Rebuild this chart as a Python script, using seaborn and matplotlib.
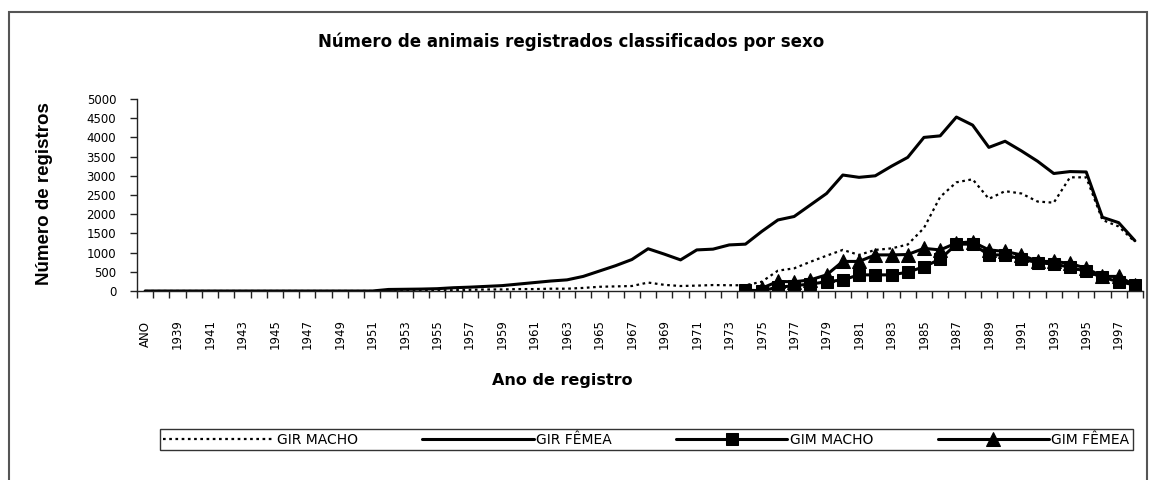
import numpy as np
import pandas as pd
import matplotlib
matplotlib.use("Agg")
import matplotlib.pyplot as plt
from matplotlib.patches import Rectangle
import seaborn as sns

# categorias do eixo x (a primeira e o cabecalho "ANO" da planilha)
anos = ["ANO"] + [str(a) for a in range(1938, 1999)]

gir_macho = [0,
             0, 0, 0, 0, 0, 0, 0, 0, 0, 0, 0, 0, 0, 0,
             5, 10, 10, 15, 20, 30, 40, 40, 50, 50, 60, 60, 80, 110, 120, 130,
             220, 160, 130, 140, 155, 150, 150, 240, 530, 590, 760, 920, 1070, 940,
             1070, 1110, 1210, 1640, 2450, 2830, 2910, 2400, 2600, 2540, 2330, 2300,
             2960, 2960, 1850, 1680, 1280]

gir_femea = [0,
             0, 0, 0, 0, 0, 0, 0, 0, 0, 0, 0, 0, 0, 0,
             40, 45, 50, 60, 85, 100, 120, 140, 180, 220, 260, 290, 380, 520, 660, 820,
             1100, 960, 810, 1070, 1090, 1200, 1220, 1550, 1850, 1940, 2240, 2540, 3020, 2960,
             3000, 3250, 3480, 4000, 4040, 4530, 4320, 3740, 3900, 3650, 3380, 3060,
             3110, 3100, 1920, 1780, 1310]

# GIM so aparece a partir de meados dos anos 70
gim_macho_anos = [str(a) for a in range(1974, 1999)]
gim_macho = [20, 10, 95, 140, 180, 240, 290, 420, 420, 420, 490, 630, 830,
             1220, 1220, 940, 940, 830, 740, 700, 620, 510, 360, 240, 160]

gim_femea_anos = [str(a) for a in range(1975, 1999)]
gim_femea = [70, 250, 240, 290, 420, 770, 770, 940, 940, 950, 1110, 1070,
             1250, 1280, 1070, 1030, 940, 770, 770, 720, 590, 380, 380, 150]

pos = {a: i for i, a in enumerate(anos)}

sns.set_theme(style="ticks")
plt.rcParams['font.family'] = ['Liberation Sans', 'DejaVu Sans']
for k in ["text.color", "axes.labelcolor", "xtick.color", "ytick.color", "axes.edgecolor"]:
    plt.rcParams[k] = "black"
largo = ['DejaVu Sans']  # letras mais espacadas, como no original

W, H = 1150, 480
fig = plt.figure(figsize=(W / 100, H / 100), dpi=100)
fig.patch.set_facecolor("white")
ax = fig.add_axes([137 / W, 1 - 291 / H, (1143 - 137) / W, (291 - 99) / H])

series = [
    ("GIR MACHO", anos, gir_macho, dict(linestyle=(0, (1.2, 1.6)), linewidth=1.6)),
    ("GIR FÊMEA", anos, gir_femea, dict(linestyle="-", linewidth=2.2)),
    ("GIM MACHO", gim_macho_anos, gim_macho,
     dict(linestyle="-", linewidth=2.2, marker="s", markersize=8.5, markeredgecolor="black")),
    ("GIM FÊMEA", gim_femea_anos, gim_femea,
     dict(linestyle="-", linewidth=2.2, marker="^", markersize=10, markeredgecolor="black")),
]

for nome, cats, vals, estilo in series:
    d = pd.DataFrame({"pos": [pos[c] for c in cats], "valor": vals})
    sns.lineplot(data=d, x="pos", y="valor", color="black", label=nome, ax=ax, **estilo)

ax.set_xlim(-0.5, len(anos) - 0.5)
ax.set_ylim(0, 5000)
ax.set_xlabel("")
ax.set_ylabel("")
sns.despine(ax=ax)
for s in ["left", "bottom"]:
    ax.spines[s].set_color("#222222")
    ax.spines[s].set_linewidth(1.0)

ax.set_xticks(range(0, len(anos), 2))
ax.set_xticklabels(anos[::2], family=largo)
ax.set_xticks(np.arange(-0.5, len(anos), 1), minor=True)
ax.tick_params(axis="x", which="major", length=0, pad=31, labelsize=8.5, labelrotation=90)
ax.tick_params(axis="x", which="minor", length=5, width=1, color="#222222", direction="out")
for lbl in ax.get_xticklabels():
    lbl.set_va("center")

ax.set_yticks(range(0, 5001, 500))
ax.set_yticklabels([str(v) for v in range(0, 5001, 500)], family=largo)
ax.tick_params(axis="y", length=5, width=1, color="#222222", direction="out", pad=10, labelsize=8.5)

fig.text(0.497, 1 - 42 / H, "Número de animais registrados classificados por sexo",
         ha="center", va="center", fontsize=12, fontweight="bold", family=largo)
fig.text(45 / W, 1 - 194 / H, "Número de registros", rotation=90,
         ha="center", va="center", fontsize=13.5, fontweight="bold")
fig.text(562 / W, 1 - 381 / H, "Ano de registro",
         ha="center", va="center", fontsize=11.5, fontweight="bold", family=largo)

leg = ax.legend(loc="center", bbox_to_anchor=(160 / W, 1 - 451 / H, (1133 - 160) / W, 23 / H),
                bbox_transform=fig.transFigure, ncol=4, mode="expand", frameon=True,
                fancybox=False, edgecolor="black", handlelength=8.0, handletextpad=0.2,
                borderpad=0.25, borderaxespad=0, prop={"family": largo, "size": 10})
leg.get_frame().set_linewidth(1.0)

fig.patches.append(Rectangle((9 / W, -0.05), (1147 - 9) / W, 1.05 - 12 / H,
                             transform=fig.transFigure, fill=False,
                             edgecolor="#555555", linewidth=1.5))

fig.savefig("out.png", dpi=100)
